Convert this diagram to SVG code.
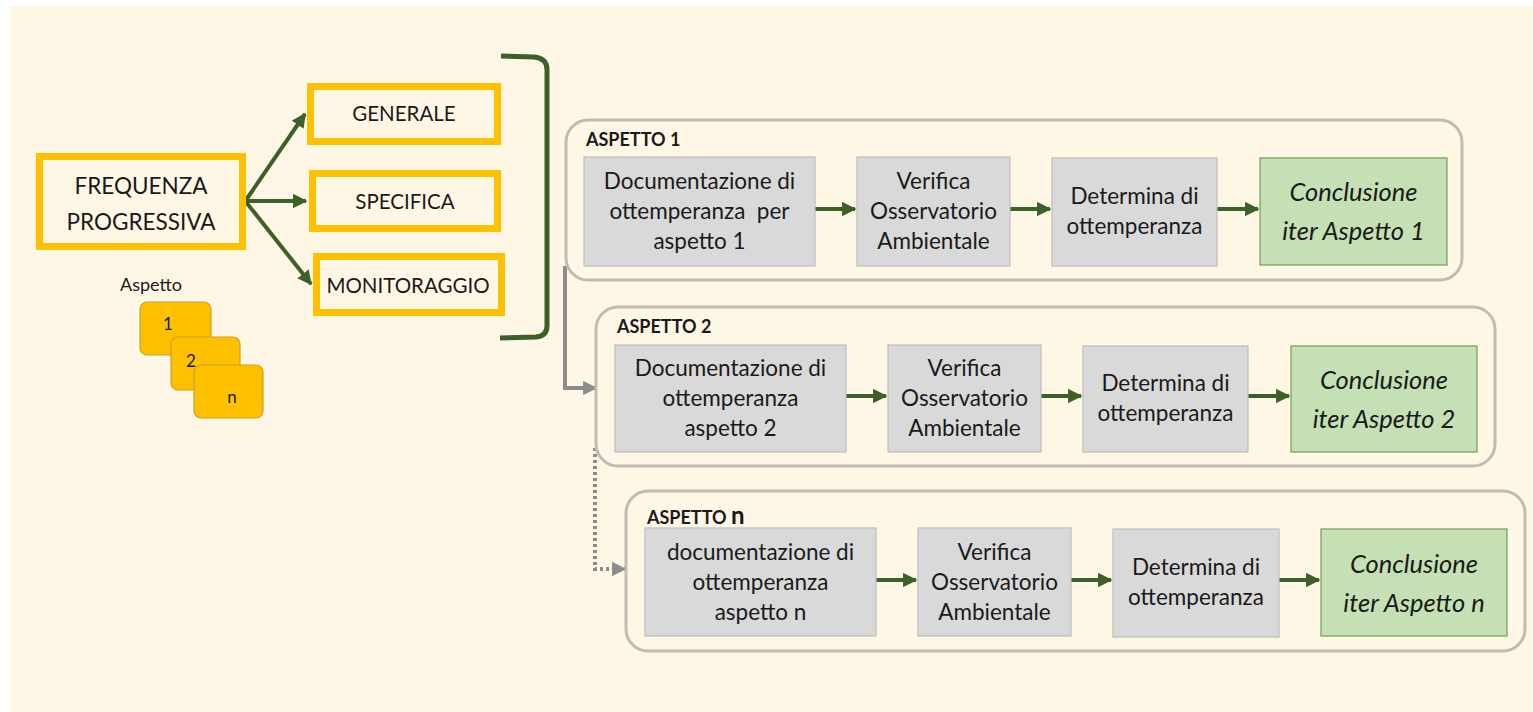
<svg xmlns="http://www.w3.org/2000/svg" width="1533" height="712" viewBox="0 0 1533 712">
  <style>
    text { font-family: Lato, "Open Sans", "Liberation Sans", sans-serif; fill: #1a1a1a; text-anchor: middle; }
    .yel { fill: none; stroke: #FFC000; stroke-width: 7; }
    .card { fill: #FFC000; stroke: #C9A12B; stroke-width: 1.2; }
    .grp { fill: none; stroke: #BFBCB4; stroke-width: 3; }
    .step { fill: #D9D9D9; stroke: #BCBCBC; stroke-width: 1.2; }
    .end { fill: #C5E0B4; stroke: #6E9E53; stroke-width: 1.2; }
    .flow { stroke: #3C6128; stroke-width: 4; fill: none; }
    .t20 { font-size: 22.5px; }
    .big { font-size: 22.5px; }
    .mid { font-size: 20.5px; }
    .lbl { font-size: 18px; font-weight: bold; text-anchor: start; }
    .it { font-size: 25.5px; font-style: italic; }
    .num { font-size: 17px; }
  </style>
  <defs>
    <marker id="ah" viewBox="0 0 10 10" refX="9" refY="5" markerWidth="3.6" markerHeight="3.6" orient="auto">
      <path d="M0,0 L10,5 L0,10 z" fill="#3C6128"/>
    </marker>
    <marker id="ahg" viewBox="0 0 10 10" refX="9" refY="5" markerWidth="3.6" markerHeight="3.6" orient="auto">
      <path d="M0,0 L10,5 L0,10 z" fill="#8C8C8C"/>
    </marker>
  </defs>

  <!-- page -->
  <rect x="0" y="0" width="1533" height="712" fill="#FFFFFF"/>
  <rect x="10" y="6" width="1523" height="706" fill="#FFF7E6"/>

  <!-- connectors -->
  <g id="connectors">
    <line class="flow" x1="246" y1="200" x2="305" y2="114" marker-end="url(#ah)"/>
    <line class="flow" x1="246" y1="201" x2="306" y2="201" marker-end="url(#ah)"/>
    <line class="flow" x1="246" y1="202" x2="311" y2="284" marker-end="url(#ah)"/>
    <path d="M501,56 L534,57 Q547,58 547,70 L547,326 Q547,336 536,337 L500,338" fill="none" stroke="#3C6128" stroke-width="5"/>

    <path d="M565,266 L565,388 L596,388" fill="none" stroke="#8C8C8C" stroke-width="4" marker-end="url(#ahg)"/>
    <path d="M595,448 L595,569 L625,569" fill="none" stroke="#8C8C8C" stroke-width="4" stroke-dasharray="3 3" marker-end="url(#ahg)"/>

    <line class="flow" x1="815" y1="209" x2="855" y2="209" marker-end="url(#ah)"/>
    <line class="flow" x1="1010" y1="209" x2="1050" y2="209" marker-end="url(#ah)"/>
    <line class="flow" x1="1217" y1="209" x2="1258" y2="209" marker-end="url(#ah)"/>

    <line class="flow" x1="846" y1="396" x2="886" y2="396" marker-end="url(#ah)"/>
    <line class="flow" x1="1041" y1="396" x2="1081" y2="396" marker-end="url(#ah)"/>
    <line class="flow" x1="1248" y1="396" x2="1289" y2="396" marker-end="url(#ah)"/>

    <line class="flow" x1="876" y1="580" x2="916" y2="580" marker-end="url(#ah)"/>
    <line class="flow" x1="1071" y1="580" x2="1111" y2="580" marker-end="url(#ah)"/>
    <line class="flow" x1="1279" y1="580" x2="1319" y2="580" marker-end="url(#ah)"/>
  </g>

  <!-- left side -->
  <g id="frequenza">
    <rect class="yel" x="39.5" y="156.5" width="203" height="90"/>
    <text class="big" x="141" y="194">FREQUENZA</text>
    <text class="big" x="141" y="230">PROGRESSIVA</text>
  </g>
  <g id="generale">
    <rect class="yel" x="310.5" y="86.5" width="187" height="55"/>
    <text class="mid" x="404" y="121">GENERALE</text>
  </g>
  <g id="specifica">
    <rect class="yel" x="312.5" y="173.5" width="185" height="55"/>
    <text class="mid" x="405" y="209">SPECIFICA</text>
  </g>
  <g id="monitoraggio">
    <rect class="yel" x="316.5" y="256.5" width="185" height="56"/>
    <text class="mid" x="408" y="293">MONITORAGGIO</text>
  </g>
  <g id="aspetti">
    <text x="151" y="291" font-size="18">Aspetto</text>
    <rect class="card" x="140" y="302" width="71" height="53" rx="7"/>
    <text class="num" x="168" y="330">1</text>
    <rect class="card" x="171" y="337" width="69" height="53" rx="7"/>
    <text class="num" x="191" y="367">2</text>
    <rect class="card" x="194" y="365" width="69" height="53" rx="7"/>
    <text class="num" x="232" y="403">n</text>
  </g>

  <!-- ASPETTO 1 -->
  <g id="aspetto-1">
    <rect class="grp" x="566" y="120" width="896" height="160" rx="22"/>
    <text class="lbl" x="586" y="146">ASPETTO 1</text>
    <rect class="step" x="584" y="157" width="231" height="109"/>
    <text class="t20" x="699.5" y="189">Documentazione di</text>
    <text class="t20" x="699.5" y="219" xml:space="preserve">ottemperanza  per</text>
    <text class="t20" x="699.5" y="249">aspetto 1</text>
    <rect class="step" x="857" y="157" width="153" height="109"/>
    <text class="t20" x="933.5" y="189">Verifica</text>
    <text class="t20" x="933.5" y="219">Osservatorio</text>
    <text class="t20" x="933.5" y="249">Ambientale</text>
    <rect class="step" x="1052" y="158" width="165" height="108"/>
    <text class="t20" x="1134.5" y="204">Determina di</text>
    <text class="t20" x="1134.5" y="234">ottemperanza</text>
    <rect class="end" x="1260" y="158" width="187" height="107"/>
    <text class="it" x="1353.5" y="201">Conclusione</text>
    <text class="it" x="1353.5" y="240">iter Aspetto 1</text>
  </g>

  <!-- ASPETTO 2 -->
  <g id="aspetto-2">
    <rect class="grp" x="596" y="307" width="899" height="159" rx="22"/>
    <text class="lbl" x="617" y="333">ASPETTO 2</text>
    <rect class="step" x="615" y="345" width="231" height="107"/>
    <text class="t20" x="730.5" y="376">Documentazione di</text>
    <text class="t20" x="730.5" y="406">ottemperanza</text>
    <text class="t20" x="730.5" y="436">aspetto 2</text>
    <rect class="step" x="888" y="345" width="153" height="107"/>
    <text class="t20" x="964.5" y="376">Verifica</text>
    <text class="t20" x="964.5" y="406">Osservatorio</text>
    <text class="t20" x="964.5" y="436">Ambientale</text>
    <rect class="step" x="1083" y="346" width="165" height="106"/>
    <text class="t20" x="1165.5" y="391">Determina di</text>
    <text class="t20" x="1165.5" y="421">ottemperanza</text>
    <rect class="end" x="1291" y="346" width="186" height="106"/>
    <text class="it" x="1384" y="389">Conclusione</text>
    <text class="it" x="1384" y="428">iter Aspetto 2</text>
  </g>

  <!-- ASPETTO n -->
  <g id="aspetto-n">
    <rect class="grp" x="626" y="491" width="899" height="160" rx="22"/>
    <text class="lbl" x="647" y="524">ASPETTO <tspan font-size="24px">n</tspan></text>
    <rect class="step" x="645" y="528" width="231" height="108"/>
    <text class="t20" x="760.5" y="560">documentazione di</text>
    <text class="t20" x="760.5" y="590">ottemperanza</text>
    <text class="t20" x="760.5" y="620">aspetto n</text>
    <rect class="step" x="918" y="528" width="153" height="108"/>
    <text class="t20" x="994.5" y="560">Verifica</text>
    <text class="t20" x="994.5" y="590">Osservatorio</text>
    <text class="t20" x="994.5" y="620">Ambientale</text>
    <rect class="step" x="1113" y="529" width="166" height="108"/>
    <text class="t20" x="1196" y="575">Determina di</text>
    <text class="t20" x="1196" y="605">ottemperanza</text>
    <rect class="end" x="1321" y="529" width="186" height="107"/>
    <text class="it" x="1414" y="573">Conclusione</text>
    <text class="it" x="1414" y="612">iter Aspetto n</text>
  </g>
</svg>
